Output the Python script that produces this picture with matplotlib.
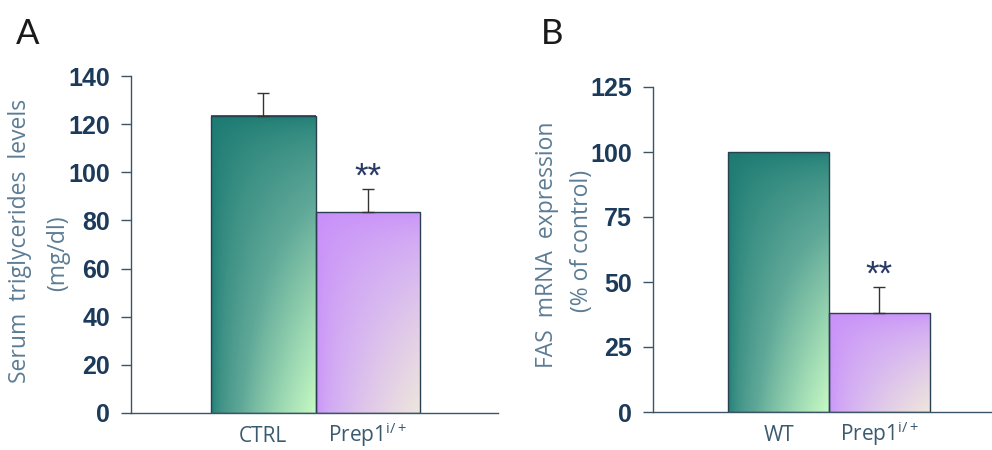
import numpy as np
import matplotlib.pyplot as plt
from matplotlib.colors import LinearSegmentedColormap

plt.rcParams['mathtext.fontset'] = 'custom'
plt.rcParams['mathtext.rm'] = 'Open Sans'
plt.rcParams['mathtext.it'] = 'Open Sans'

# panel A
groups_a = ['CTRL', 'Prep1$^{\\mathregular{i/+}}$']
trig = [123.5, 83.5]
trig_err = [9.5, 9.5]

# panel B
groups_b = ['WT', 'Prep1$^{\\mathregular{i/+}}$']
fas = [100, 38]
fas_err = [0, 10]

teal = LinearSegmentedColormap.from_list('teal', ['#1b7a72', '#5fa898', '#c6f9c4'])
lilac = LinearSegmentedColormap.from_list('lilac', ['#c88ffa', '#d8b8f0', '#eee6dc'])

navy = '#1c3a5a'
axis_col = '#3b5566'
label_col = '#5b7c94'

W, H = 992, 450
fig = plt.figure(figsize=(W / 100, H / 100), dpi=100)


def px(x0, y0, x1, y1):
    return [x0 / W, 1 - y1 / H, (x1 - x0) / W, (y1 - y0) / H]


def grad_bar(ax, x, h, cmap):
    u, v = np.meshgrid(np.linspace(0, 1, 200), np.linspace(1, 0, 200))
    t = (u * (1 - v)) ** 0.55
    ax.imshow(t, cmap=cmap, extent=[x - 0.5, x + 0.5, 0, h], aspect='auto',
              vmin=0, vmax=1, zorder=1, interpolation='bilinear')


def panel(ax, names, vals, errs, ymax, step, xlim):
    xs = np.arange(len(vals))
    for x, h, cm in zip(xs, vals, [teal, lilac]):
        grad_bar(ax, x, h, cm)
    ax.bar(xs, vals, width=1.0, facecolor='none', edgecolor='#2a4050', linewidth=1.0, zorder=2)
    for x, h, e in zip(xs, vals, errs):
        if e > 0:
            ax.errorbar(x, h, yerr=[[0], [e]], fmt='none', ecolor='#333333',
                        elinewidth=1.0, capsize=4, capthick=1.0, zorder=3)
    ax.annotate('**', (xs[1], vals[1] + errs[1]), xytext=(0, 9), textcoords='offset points',
                ha='center', va='center', fontsize=25, color='#2a3a66', family='Liberation Sans')
    for x, name in zip(xs, names):
        ax.annotate(name, (x, 0), xytext=(0, -21), textcoords='offset points',
                    ha='center', va='baseline', fontsize=15, color='#3a5a70',
                    family='Open Sans', annotation_clip=False)
    ax.set_xlim(*xlim)
    ax.set_ylim(0, ymax)
    ax.set_yticks(np.arange(0, ymax + 1, step))
    ax.set_xticks([])
    ax.tick_params(axis='y', length=7, width=1, color=axis_col, direction='out', pad=8)
    for lbl in ax.get_yticklabels():
        lbl.set_fontsize(18)
        lbl.set_fontweight('bold')
        lbl.set_color(navy)
        lbl.set_family('Liberation Sans')
    for s in ['top', 'right']:
        ax.spines[s].set_visible(False)
    for s in ['left', 'bottom']:
        ax.spines[s].set_color(axis_col)
        ax.spines[s].set_linewidth(1.0)


ax1 = fig.add_axes(px(131, 76, 498, 413))
panel(ax1, groups_a, trig, trig_err, 140, 20, (-1.26, 2.24))
ax2 = fig.add_axes(px(653, 87, 992, 412))
panel(ax2, groups_b, fas, fas_err, 125, 25, (-1.25, 2.12))

lab = dict(rotation=90, ha='center', va='center', fontsize=16.5, color=label_col, family='Open Sans')
fig.text(20 / W, 1 - 241 / H, 'Serum  triglycerides  levels', **lab)
fig.text(58 / W, 1 - 253 / H, '(mg/dl)', **lab)
fig.text(547 / W, 1 - 245 / H, 'FAS  mRNA  expression', **lab)
fig.text(582 / W, 1 - 241 / H, '(% of control)', **lab)

fig.text(28 / W, 1 - 34 / H, 'A', ha='center', va='center', fontsize=25, color='#1a1a1a', family='Lato')
fig.text(552 / W, 1 - 34 / H, 'B', ha='center', va='center', fontsize=25, color='#1a1a1a', family='Lato')

fig.savefig('out.png', dpi=100)
